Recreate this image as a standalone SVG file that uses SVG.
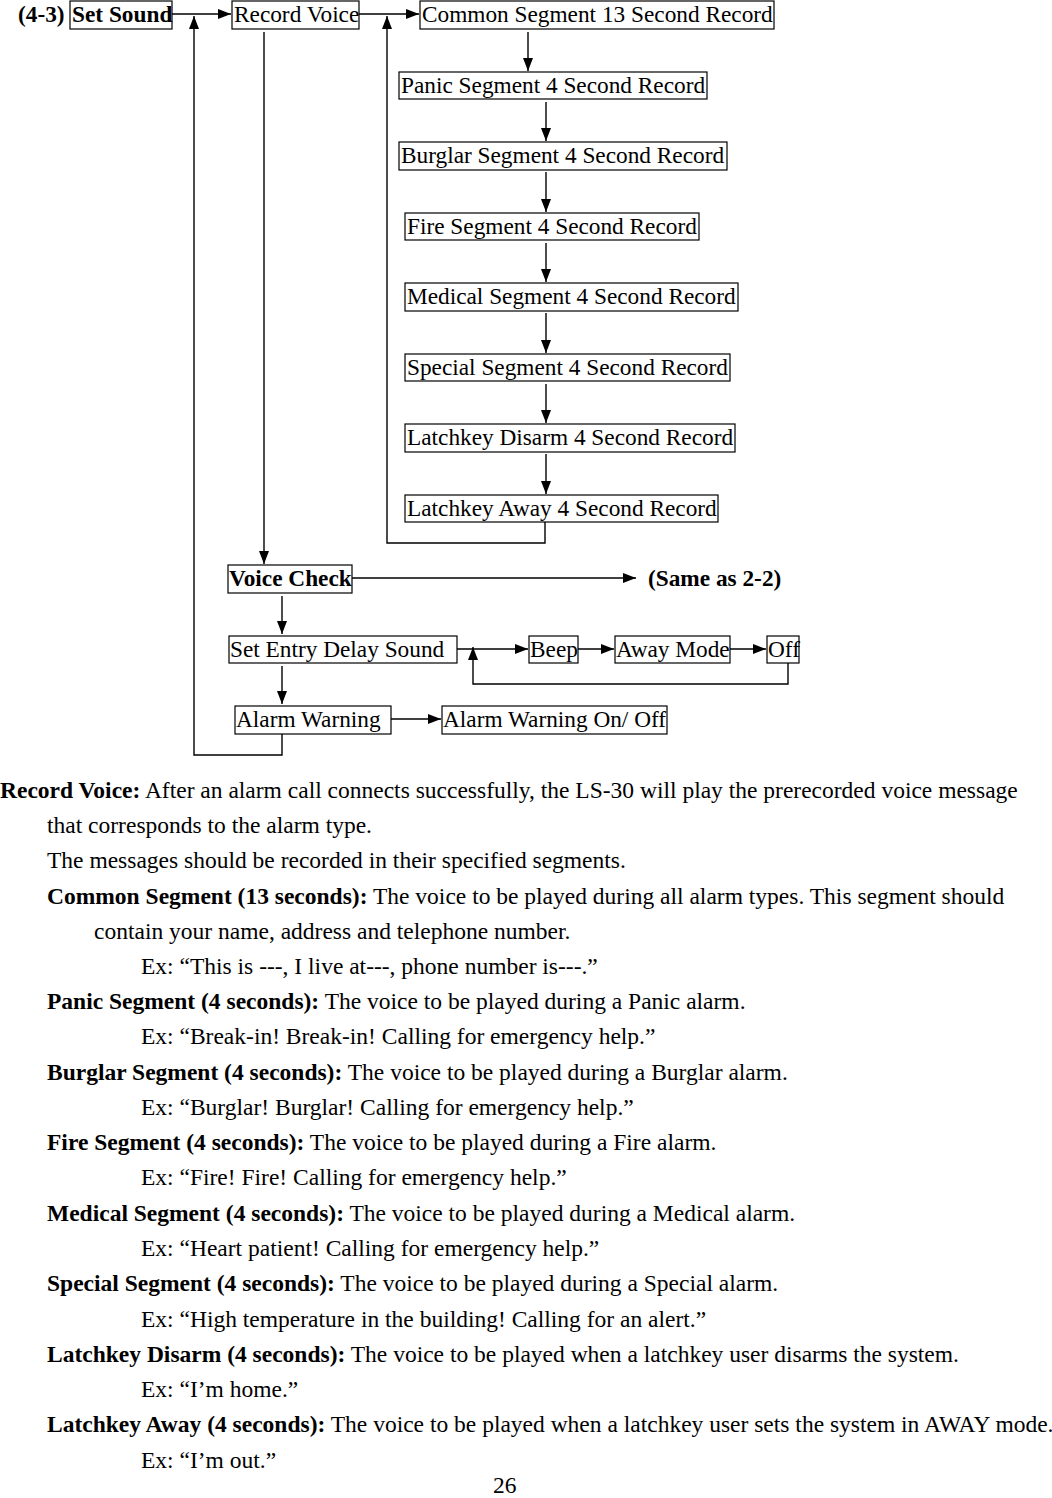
<svg xmlns="http://www.w3.org/2000/svg" width="1052" height="1498" viewBox="0 0 1052 1498">
<style>
text{font-family:"Liberation Serif","Times New Roman",serif;font-size:23.3px;fill:#000}
#body text{font-size:23.5px}
.b{font-weight:bold}
.box{fill:none;stroke:#000;stroke-width:1.2}
.c{fill:none;stroke:#000;stroke-width:1.4}
</style>
<defs>
<marker id="ah" markerUnits="userSpaceOnUse" markerWidth="14" markerHeight="12" refX="13" refY="6" orient="auto">
<path d="M0,1 L13,6 L0,11 Z" fill="#000"/>
</marker>
</defs>
<rect width="1052" height="1498" fill="#fff"/>
<text x="18" y="22" class="b">(4-3)</text>
<g id="connectors">
<line class="c" x1="172" y1="14" x2="231" y2="14" marker-end="url(#ah)"/>
<line class="c" x1="359" y1="14" x2="419" y2="14" marker-end="url(#ah)"/>
<polyline class="c" points="282,734 282,755 194,755 194,16" marker-end="url(#ah)"/>
<polyline class="c" points="545,522 545,543 387,543 387,16" marker-end="url(#ah)"/>
<line class="c" x1="264" y1="32" x2="264" y2="564" marker-end="url(#ah)"/>
<line class="c" x1="528" y1="32" x2="528" y2="71" marker-end="url(#ah)"/>
<line class="c" x1="546" y1="102" x2="546" y2="141" marker-end="url(#ah)"/>
<line class="c" x1="546" y1="172" x2="546" y2="212" marker-end="url(#ah)"/>
<line class="c" x1="546" y1="243" x2="546" y2="282" marker-end="url(#ah)"/>
<line class="c" x1="546" y1="313" x2="546" y2="353" marker-end="url(#ah)"/>
<line class="c" x1="546" y1="384" x2="546" y2="423" marker-end="url(#ah)"/>
<line class="c" x1="546" y1="454" x2="546" y2="494" marker-end="url(#ah)"/>
<line class="c" x1="352" y1="578" x2="636" y2="578" marker-end="url(#ah)"/>
<line class="c" x1="282" y1="596" x2="282" y2="634" marker-end="url(#ah)"/>
<line class="c" x1="282" y1="666" x2="282" y2="704" marker-end="url(#ah)"/>
<line class="c" x1="457" y1="649" x2="528" y2="649" marker-end="url(#ah)"/>
<line class="c" x1="578" y1="649" x2="614" y2="649" marker-end="url(#ah)"/>
<line class="c" x1="730" y1="649" x2="766" y2="649" marker-end="url(#ah)"/>
<polyline class="c" points="788,663 788,684 473,684 473,647" marker-end="url(#ah)"/>
<line class="c" x1="391" y1="719" x2="441" y2="719" marker-end="url(#ah)"/>
</g>
<g id="set-sound"><rect class="box" x="70" y="1" width="102" height="28"/><text x="72" y="22" class="b">Set Sound</text></g>
<g id="record-voice"><rect class="box" x="232" y="1" width="127" height="28"/><text x="234" y="22">Record Voice</text></g>
<g id="common"><rect class="box" x="420" y="1" width="354" height="28"/><text x="422" y="22">Common Segment 13 Second Record</text></g>
<g id="panic"><rect class="box" x="399" y="72" width="308" height="27"/><text x="401" y="93">Panic Segment 4 Second Record</text></g>
<g id="burglar"><rect class="box" x="399" y="142" width="328" height="28"/><text x="401" y="163">Burglar Segment 4 Second Record</text></g>
<g id="fire"><rect class="box" x="405" y="213" width="294" height="27"/><text x="407" y="234">Fire Segment 4 Second Record</text></g>
<g id="medical"><rect class="box" x="405" y="283" width="333" height="28"/><text x="407" y="304">Medical Segment 4 Second Record</text></g>
<g id="special"><rect class="box" x="405" y="354" width="325" height="27"/><text x="407" y="375">Special Segment 4 Second Record</text></g>
<g id="latchkey-disarm"><rect class="box" x="405" y="424" width="330" height="28"/><text x="407" y="445">Latchkey Disarm 4 Second Record</text></g>
<g id="latchkey-away"><rect class="box" x="405" y="495" width="313" height="27"/><text x="407" y="516">Latchkey Away 4 Second Record</text></g>
<g id="voice-check"><rect class="box" x="228" y="565" width="124" height="28"/><text x="229" y="586" class="b">Voice Check</text></g>
<g id="same-as"><text x="648" y="586" class="b">(Same as 2-2)</text></g>
<g id="entry-delay"><rect class="box" x="229" y="636" width="228" height="27"/><text x="230" y="657">Set Entry Delay Sound</text></g>
<g id="beep"><rect class="box" x="529" y="636" width="49" height="27"/><text x="530" y="657">Beep</text></g>
<g id="away-mode"><rect class="box" x="615" y="636" width="115" height="27"/><text x="616" y="657">Away Mode</text></g>
<g id="off"><rect class="box" x="767" y="636" width="32" height="27"/><text x="768" y="657">Off</text></g>
<g id="alarm-warning"><rect class="box" x="235" y="706" width="156" height="28"/><text x="236" y="727">Alarm Warning</text></g>
<g id="alarm-warning-onoff"><rect class="box" x="442" y="706" width="225" height="28"/><text x="443" y="727">Alarm Warning On/ Off</text></g>
<g id="body">
<text x="0" y="798"><tspan class="b">Record Voice:</tspan> After an alarm call connects successfully, the LS-30 will play the prerecorded voice message</text>
<text x="47" y="833">that corresponds to the alarm type.</text>
<text x="47" y="868">The messages should be recorded in their specified segments.</text>
<text x="47" y="904"><tspan class="b">Common Segment (13 seconds):</tspan> The voice to be played during all alarm types. This segment should</text>
<text x="94" y="939">contain your name, address and telephone number.</text>
<text x="141" y="974">Ex: “This is ---, I live at---, phone number is---.”</text>
<text x="47" y="1009"><tspan class="b">Panic Segment (4 seconds):</tspan> The voice to be played during a Panic alarm.</text>
<text x="141" y="1044">Ex: “Break-in! Break-in! Calling for emergency help.”</text>
<text x="47" y="1080"><tspan class="b">Burglar Segment (4 seconds):</tspan> The voice to be played during a Burglar alarm.</text>
<text x="141" y="1115">Ex: “Burglar! Burglar! Calling for emergency help.”</text>
<text x="47" y="1150"><tspan class="b">Fire Segment (4 seconds):</tspan> The voice to be played during a Fire alarm.</text>
<text x="141" y="1185">Ex: “Fire! Fire! Calling for emergency help.”</text>
<text x="47" y="1221"><tspan class="b">Medical Segment (4 seconds):</tspan> The voice to be played during a Medical alarm.</text>
<text x="141" y="1256">Ex: “Heart patient! Calling for emergency help.”</text>
<text x="47" y="1291"><tspan class="b">Special Segment (4 seconds):</tspan> The voice to be played during a Special alarm.</text>
<text x="141" y="1327">Ex: “High temperature in the building! Calling for an alert.”</text>
<text x="47" y="1362"><tspan class="b">Latchkey Disarm (4 seconds):</tspan> The voice to be played when a latchkey user disarms the system.</text>
<text x="141" y="1397">Ex: “I’m home.”</text>
<text x="47" y="1432"><tspan class="b">Latchkey Away (4 seconds):</tspan> The voice to be played when a latchkey user sets the system in AWAY mode.</text>
<text x="141" y="1468">Ex: “I’m out.”</text>
<text x="493" y="1493">26</text>
</g>
</svg>
